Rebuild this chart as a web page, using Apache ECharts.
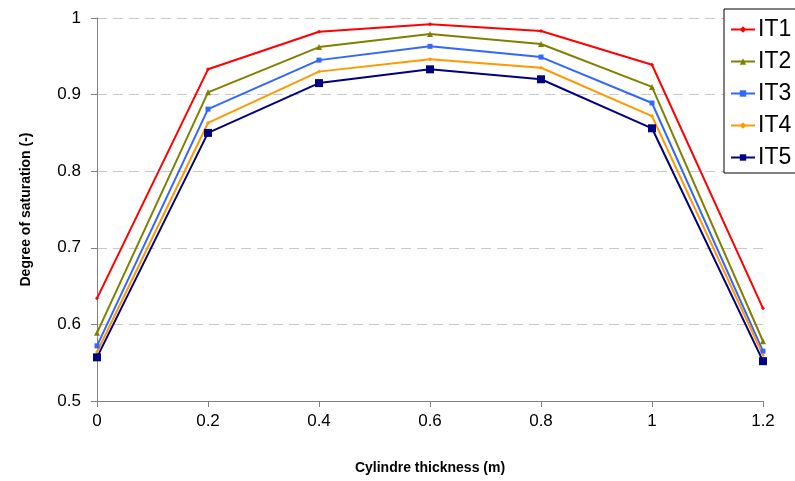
<!DOCTYPE html>
<html>
<head>
<meta charset="utf-8">
<script src="https://cdn.jsdelivr.net/npm/echarts@6/dist/echarts.min.js"></script>
<style>
  html, body { margin: 0; padding: 0; background: #fff; }
  #chart { width: 795px; height: 481px; }
</style>
</head>
<body>
<div id="chart"></div>
<script>
// Cylinder thickness positions (m)
const thickness = [0, 0.2, 0.4, 0.6, 0.8, 1, 1.2];

// Degree of saturation for each iteration
const it1 = [0.634, 0.933, 0.982, 0.992, 0.983, 0.939, 0.621];
const it2 = [0.589, 0.903, 0.962, 0.979, 0.966, 0.910, 0.578];
const it3 = [0.572, 0.881, 0.945, 0.963, 0.949, 0.889, 0.565];
const it4 = [0.564, 0.863, 0.930, 0.946, 0.935, 0.872, 0.560];
const it5 = [0.557, 0.850, 0.915, 0.933, 0.920, 0.856, 0.552];

const seriesNames = ['IT1', 'IT2', 'IT3', 'IT4', 'IT5'];
const seriesValues = [it1, it2, it3, it4, it5];
const colors = ['#FF0000', '#808000', '#3366FF', '#FF9900', '#000080'];
const symbols = ['diamond', 'triangle', 'rect', 'diamond', 'rect'];
const symbolSizes = [4, 6, 5, 4, 8];

const chart = echarts.init(document.getElementById('chart'));

const series = seriesNames.map((name, i) => ({
  name: name,
  type: 'line',
  data: thickness.map((x, j) => [x, seriesValues[i][j]]),
  symbol: symbols[i],
  symbolSize: symbolSizes[i],
  showAllSymbol: true,
  lineStyle: { color: colors[i], width: 2 },
  itemStyle: { color: colors[i] },
  animation: false
}));

chart.setOption({
  animation: false,
  textStyle: { fontFamily: 'Liberation Sans, Arial, sans-serif' },
  grid: { left: 97, right: 32, top: 18, bottom: 80 },
  legend: {
    data: seriesNames,
    orient: 'vertical',
    left: 724,
    top: 9,
    itemWidth: 24,
    itemHeight: 8,
    itemGap: 9,
    padding: [9, 20, 4, 6],
    backgroundColor: '#fff',
    borderColor: '#000',
    borderWidth: 1,
    textStyle: { fontSize: 23, color: '#000', padding: [0, 0, 0, -2], fontFamily: 'Liberation Sans, Arial, sans-serif' }
  },
  xAxis: {
    type: 'value',
    min: 0,
    max: 1.2,
    interval: 0.2,
    name: 'Cylindre thickness (m)',
    nameLocation: 'middle',
    nameGap: 60,
    nameTextStyle: { fontSize: 14, fontWeight: 'bold', color: '#000' },
    axisLine: { lineStyle: { color: '#808080', width: 1 } },
    axisTick: { show: true, length: 6, lineStyle: { color: '#808080' } },
    axisLabel: {
      fontSize: 17, color: '#000', margin: 12,
      formatter: v => String(Math.round(v * 10) / 10)
    },
    splitLine: { show: false }
  },
  yAxis: {
    type: 'value',
    min: 0.5,
    max: 1,
    interval: 0.1,
    name: 'Degree of saturation (-)',
    nameLocation: 'middle',
    nameGap: 64,
    nameTextStyle: { fontSize: 14, fontWeight: 'bold', color: '#000' },
    axisLine: { show: true, lineStyle: { color: '#808080', width: 1 } },
    axisTick: { show: true, length: 6, lineStyle: { color: '#808080' } },
    axisLabel: {
      fontSize: 17, color: '#000', margin: 16,
      formatter: v => String(Math.round(v * 10) / 10)
    },
    splitLine: { show: true, lineStyle: { color: '#C8C8C8', type: [10, 6], width: 1 } }
  },
  series: series
});
</script>
</body>
</html>
